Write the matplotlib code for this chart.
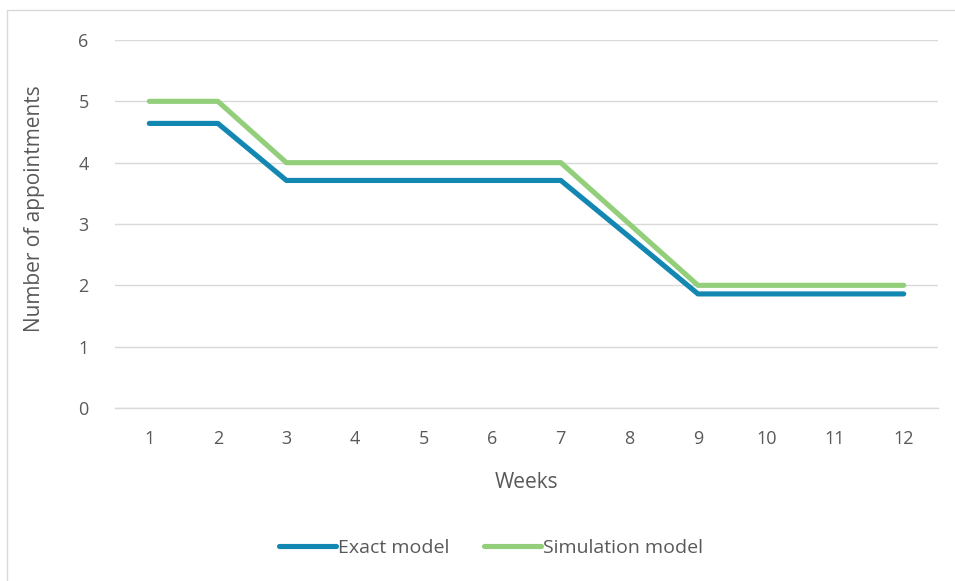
import matplotlib
matplotlib.use("Agg")
import matplotlib.pyplot as plt
from matplotlib.patches import Rectangle

weeks = [1, 2, 3, 4, 5, 6, 7, 8, 9, 10, 11, 12]
exact_model = [4.64, 4.64, 3.71, 3.71, 3.71, 3.71, 3.71, 2.79, 1.86, 1.86, 1.86, 1.86]
simulation_model = [5, 5, 4, 4, 4, 4, 4, 3, 2, 2, 2, 2]
y_ticks = [0, 1, 2, 3, 4, 5, 6]

plt.rcParams["font.family"] = ["Open Sans", "DejaVu Sans"]
text_color = "#595959"
grid_color = "#D9D9D9"

fig = plt.figure(figsize=(9.55, 5.81), dpi=100)
ax = fig.add_axes([115 / 955, 173 / 581, (938 - 115) / 955, (408 - 40) / 581])

# outer chart frame
fig.patches.append(Rectangle((7 / 955, -0.05), 1.2, (581 - 10) / 581 + 0.05,
                             transform=fig.transFigure, fill=False,
                             edgecolor=grid_color, linewidth=1.0))

ax.plot(weeks, exact_model, color="#1287B1", linewidth=3.7,
        solid_capstyle="round", solid_joinstyle="round", label="Exact model", zorder=3)
ax.plot(weeks, simulation_model, color="#93CF7B", linewidth=3.7,
        solid_capstyle="round", solid_joinstyle="round", label="Simulation model", zorder=3)

ax.set_xlim(0.5, 12.5)
ax.set_ylim(0, 6)
ax.set_xticks(weeks)
ax.set_xticklabels([str(w) for w in weeks])
ax.set_yticks(y_ticks)
ax.yaxis.grid(True, color=grid_color, linewidth=1.0)
ax.set_axisbelow(True)
for s in ["top", "right", "left"]:
    ax.spines[s].set_visible(False)
ax.spines["bottom"].set_color(grid_color)
ax.spines["bottom"].set_linewidth(1.0)
ax.tick_params(axis="both", length=0, labelsize=13, colors=text_color)
ax.tick_params(axis="x", pad=16)
ax.tick_params(axis="y", pad=19)

ax.set_xlabel("Weeks", fontsize=15, color=text_color, labelpad=17)
ax.set_ylabel("Number of appointments", fontsize=15, color=text_color, va="center")
ax.yaxis.set_label_coords((35 - 115) / 823, (408 - 209) / 368)

leg = fig.legend(loc="center", bbox_to_anchor=(491 / 955, 1 - 548 / 581), ncol=2,
                 frameon=False, fontsize=14, handlelength=2.9, handletextpad=0.1,
                 columnspacing=1.8)
for t in leg.get_texts():
    t.set_color(text_color)

fig.savefig("out.png", dpi=100, facecolor="white")
